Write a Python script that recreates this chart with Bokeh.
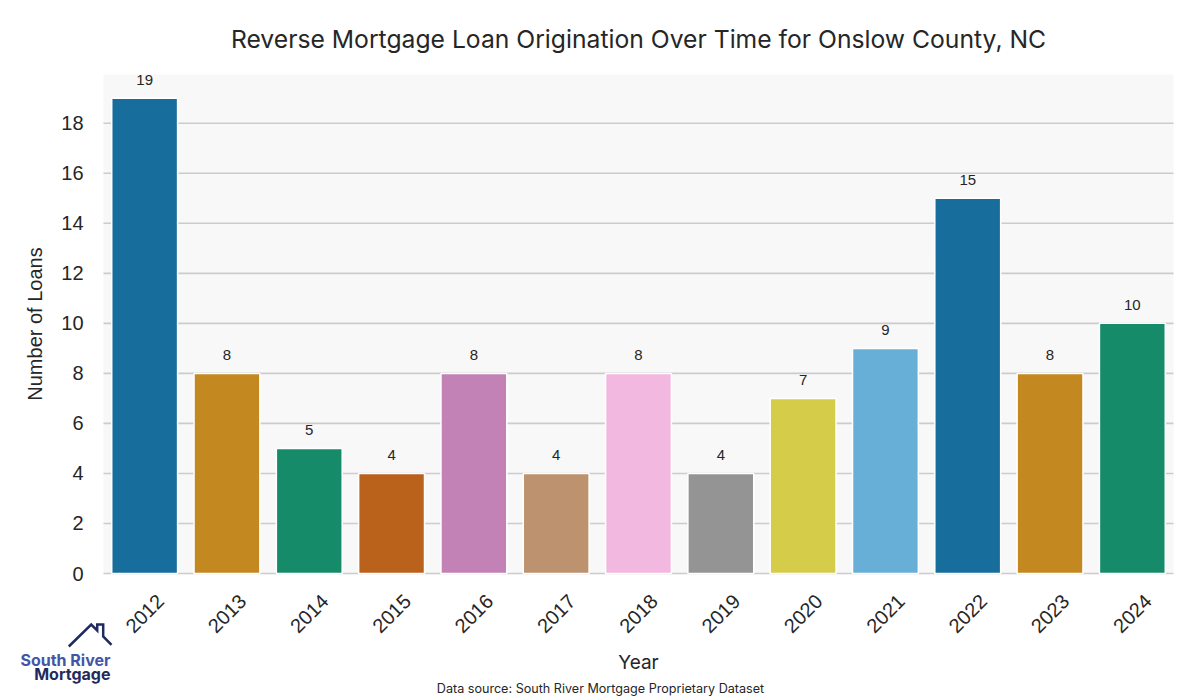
import colorsys
from math import pi
from bokeh.plotting import figure
from bokeh.models import Range1d, Label, PolyAnnotation, ColumnDataSource
from bokeh.core.properties import value
from bokeh.embed import file_html
from bokeh.resources import INLINE

# ---------------- data ----------------
years = ["2012", "2013", "2014", "2015", "2016", "2017", "2018",
         "2019", "2020", "2021", "2022", "2023", "2024"]
loans = [19, 8, 5, 4, 8, 4, 8, 4, 7, 9, 15, 8, 10]
y_ticks = [0, 2, 4, 6, 8, 10, 12, 14, 16, 18]
palette = ["#0173b2", "#de8f05", "#029e73", "#d55e00", "#cc78bc",
           "#ca9161", "#fbafe4", "#949494", "#ece133", "#56b4e9"]

title_text = "Reverse Mortgage Loan Origination Over Time for Onslow County, NC"
x_label = "Year"
y_label = "Number of Loans"
source_text = "Data source: South River Mortgage Proprietary Dataset"
logo_top = "South River"
logo_bottom = "Mortgage"


def desaturate(hexc, s=0.75):
    r, g, b = (int(hexc[i:i + 2], 16) / 255 for i in (1, 3, 5))
    h, l, sat = colorsys.rgb_to_hls(r, g, b)
    r, g, b = colorsys.hls_to_rgb(h, l, sat * s)
    return "#%02x%02x%02x" % tuple(round(c * 255) for c in (r, g, b))


colors = [desaturate(palette[i % len(palette)]) for i in range(len(years))]
xs = list(range(len(years)))

# ---------------- layout ----------------
W, H = 1200, 700
PL, PT, PR, PB = 103, 74, 1173, 573          # plot panel in page pixels
x_lo, x_hi = -0.5, len(years) - 0.5
y_lo, y_hi = 0, max(loans) * 1.05
ux = (PR - PL) / (x_hi - x_lo)
uy = (PB - PT) / (y_hi - y_lo)

TXT = "#262626"

p = figure(width=W, height=H,
           x_range=Range1d(x_lo - PL / ux, x_hi + (W - PR) / ux),
           y_range=Range1d(y_lo - (H - PB) / uy, y_hi + PT / uy),
           output_backend="svg", toolbar_location=None, title=None,
           min_border=0)
p.axis.visible = False
p.grid.visible = False
p.outline_line_color = None
p.background_fill_color = "white"
p.border_fill_color = "white"

# panel background and horizontal grid
p.quad(left=x_lo, right=x_hi, bottom=y_lo, top=y_hi,
       fill_color="#f8f8f8", line_color=None)
p.segment(x0=[x_lo] * len(y_ticks), x1=[x_hi] * len(y_ticks),
          y0=y_ticks, y1=y_ticks, line_color="#cccccc", line_width=1.6)

# bars
src = ColumnDataSource(dict(x=xs, top=loans, color=colors,
                            lab=[str(v) for v in loans]))
p.vbar(x="x", top="top", width=0.8, source=src, fill_color="color",
       line_color="white", line_width=1.5)
p.text(x="x", y="top", text="lab", source=src, text_align="center",
       text_baseline="alphabetic", y_offset=-18,
       text_font=value("Liberation Sans"), text_font_size="15px",
       text_color=TXT)

# y tick labels
p.text(x=[x_lo] * len(y_ticks), y=y_ticks, text=[str(t) for t in y_ticks],
       x_offset=-20, text_align="right", text_baseline="middle",
       text_font=value("Liberation Sans"), text_font_size="20px",
       text_color=TXT)

# x tick labels (rotated 45 deg, centred under bars)
p.text(x=xs, y=[y_lo] * len(xs), text=years, y_offset=40, angle=pi / 4,
       text_align="center", text_baseline="middle",
       text_font=value("Liberation Sans"), text_font_size="20px",
       text_color=TXT)


def lab(text, X, Y, **kw):
    opts = dict(text_align="center", text_baseline="middle", text_color=TXT)
    opts.update(kw)
    p.add_layout(Label(x=X, y=H - Y, x_units="screen", y_units="screen",
                       text=text, **opts))


lab(title_text, (PL + PR) / 2, 38, text_font="Inter", text_font_size="24.7px")
lab(y_label, 34, (PT + PB) / 2, angle=pi / 2, text_font="Liberation Sans",
    text_font_size="20px")
lab(x_label, (PL + PR) / 2, 662, text_font="Inter", text_font_size="19px")
lab(source_text, W / 2, 688, text_font="Inter", text_font_size="12.6px")

# logo
lab(logo_top, 110, 659.5, text_align="right", text_baseline="alphabetic",
    text_font="Inter", text_font_style="bold", text_font_size="16px",
    text_color="#4356a6")
lab(logo_bottom, 110, 673.5, text_align="right", text_baseline="alphabetic",
    text_font="Inter", text_font_style="bold", text_font_size="16px",
    text_color="#1f2b5e")
house = [(68.3, 646), (90.7, 624), (96.7, 630), (96.7, 624), (102.7, 624),
         (102.7, 636), (111, 644.3)]
path = house + house[-2:0:-1]
p.add_layout(PolyAnnotation(xs=[a for a, b in path], ys=[H - b for a, b in path],
                            xs_units="screen", ys_units="screen",
                            fill_alpha=0, line_color="#1f2b5e", line_alpha=1,
                            line_width=2.5, line_join="miter"))

open("out.html", "w").write(file_html(p, INLINE))
